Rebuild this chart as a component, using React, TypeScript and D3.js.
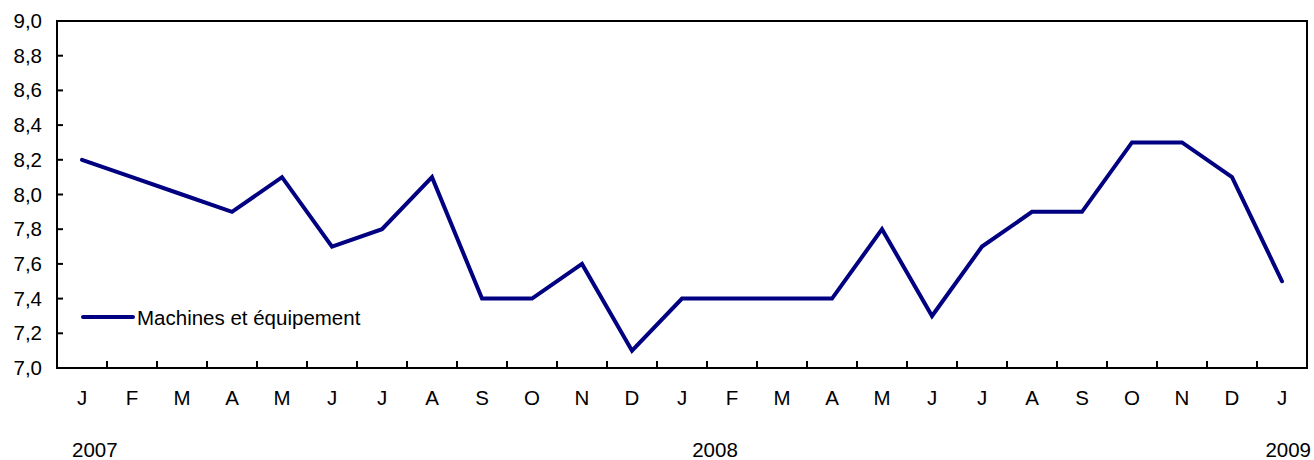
import React, { useEffect, useRef } from 'react';
import * as d3 from 'd3';

const months = ['J', 'F', 'M', 'A', 'M', 'J', 'J', 'A', 'S', 'O', 'N', 'D', 'J', 'F', 'M', 'A', 'M', 'J', 'J', 'A', 'S', 'O', 'N', 'D', 'J'];
const machines = [8.2, 8.1, 8.0, 7.9, 8.1, 7.7, 7.8, 8.1, 7.4, 7.4, 7.6, 7.1, 7.4, 7.4, 7.4, 7.4, 7.8, 7.3, 7.7, 7.9, 7.9, 8.3, 8.3, 8.1, 7.5];
const yTicks = [7.0, 7.2, 7.4, 7.6, 7.8, 8.0, 8.2, 8.4, 8.6, 8.8, 9.0];
const years = ['2007', '2008', '2009'];
const seriesName = 'Machines et équipement';

const W = 1314;
const H = 460;
const FONT = '"Liberation Sans", Arial, Helvetica, sans-serif';
const FS = '20.5px';

const App = () => {
  const svgRef = useRef<SVGSVGElement>(null);

  useEffect(() => {
    const svg = d3.select(svgRef.current);
    svg.selectAll('*').remove();

    const left = 57, right = 1307, top = 21, bottom = 368;

    const x = d3.scaleBand<number>().domain(months.map((_, i) => i)).range([left, right]).padding(0);
    const y = d3.scaleLinear().domain([7, 9]).range([bottom, top]);
    const cx = (i: number) => (x(i) as number) + x.bandwidth() / 2;

    // frame
    svg.append('rect')
      .attr('x', left).attr('y', top)
      .attr('width', right - left).attr('height', bottom - top)
      .attr('fill', 'none').attr('stroke', '#000').attr('stroke-width', 2);

    // y ticks (inward) and labels
    svg.selectAll('.ytick').data(yTicks).enter().append('line')
      .attr('x1', left).attr('x2', left + 6)
      .attr('y1', d => y(d)).attr('y2', d => y(d))
      .attr('stroke', '#000').attr('stroke-width', 2);

    svg.selectAll('.ylab').data(yTicks).enter().append('text')
      .attr('x', 42).attr('y', d => y(d) + 7)
      .attr('text-anchor', 'end')
      .style('font-family', FONT).style('font-size', FS).style('fill', '#000')
      .text(d => d3.format('.1f')(d).replace('.', ','));

    // x ticks at band boundaries
    const bounds = months.map((_, i) => i).slice(1);
    svg.selectAll('.xtick').data(bounds).enter().append('line')
      .attr('x1', d => x(d) as number).attr('x2', d => x(d) as number)
      .attr('y1', bottom).attr('y2', bottom - 7)
      .attr('stroke', '#000').attr('stroke-width', 2);

    svg.selectAll('.xlab').data(months).enter().append('text')
      .attr('x', (_, i) => cx(i)).attr('y', 405)
      .attr('text-anchor', 'middle')
      .style('font-family', FONT).style('font-size', FS).style('fill', '#000')
      .text(d => d);

    // years
    const yearPos = [
      { t: years[0], x: cx(0) - 10, a: 'start' },
      { t: years[1], x: 715, a: 'middle' },
      { t: years[2], x: 1311, a: 'end' },
    ];
    svg.selectAll('.year').data(yearPos).enter().append('text')
      .attr('x', d => d.x).attr('y', 457)
      .attr('text-anchor', d => d.a)
      .style('font-family', FONT).style('font-size', FS).style('fill', '#000')
      .text(d => d.t);

    // series line
    const line = d3.line<number>().x((_, i) => cx(i)).y(d => y(d));
    svg.append('path')
      .datum(machines)
      .attr('d', line)
      .attr('fill', 'none')
      .attr('stroke', '#000080')
      .attr('stroke-width', 4)
      .attr('stroke-linejoin', 'miter')
      .attr('stroke-linecap', 'round');

    // legend
    svg.append('line')
      .attr('x1', 83).attr('x2', 133).attr('y1', 317).attr('y2', 317)
      .attr('stroke', '#000080').attr('stroke-width', 4).attr('stroke-linecap', 'round');
    svg.append('text')
      .attr('x', 137).attr('y', 325)
      .style('font-family', FONT).style('font-size', FS).style('fill', '#000')
      .text(seriesName);
  }, []);

  return (
    <div style={{ position: 'absolute', left: 0, top: 0 }}>
      <svg ref={svgRef} width={W} height={H} style={{ display: 'block', background: '#fff' }}></svg>
    </div>
  );
};

export default App;
